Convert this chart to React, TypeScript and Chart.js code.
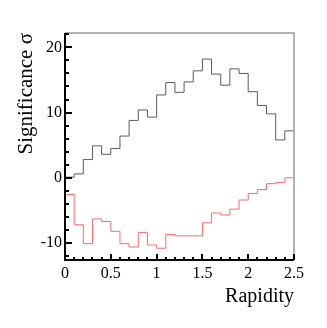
import React, { useEffect, useRef } from "react";
import { Chart, registerables } from "chart.js";

Chart.register(...registerables);

// Rapidity bin edges (25 bins of width 0.1)
const binEdges = [
  0, 0.1, 0.2, 0.3, 0.4, 0.5, 0.6, 0.7, 0.8, 0.9, 1.0, 1.1, 1.2, 1.3, 1.4,
  1.5, 1.6, 1.7, 1.8, 1.9, 2.0, 2.1, 2.2, 2.3, 2.4, 2.5,
];

// Significance per bin (black histogram)
const blackSignificance = [
  0.1, 0.6, 2.8, 4.9, 3.6, 4.5, 6.4, 8.8, 10.4, 9.3, 12.7, 14.6, 13.1, 14.7,
  16.4, 18.2, 15.9, 14.2, 16.7, 16.0, 13.2, 11.1, 9.8, 5.8, 7.2,
];

// Significance per bin (red histogram)
const redSignificance = [
  -2.55, -7.2, -10.1, -6.3, -6.7, -8.2, -10.1, -10.6, -8.4, -10.3, -10.8,
  -8.7, -8.9, -8.9, -8.9, -6.9, -5.4, -5.7, -4.8, -3.4, -2.4, -1.8, -0.9,
  -0.7, 0.0,
];

const xTickValues = [0, 0.5, 1, 1.5, 2, 2.5];
const xTickLabels = ["0", "0.5", "1", "1.5", "2", "2.5"];
const yTickValues = [-10, 0, 10, 20];
const yTickLabels = ["-10", "0", "10", "20"];
const xMinorStep = 0.1;
const yMinorStep = 2;
const xMin = 0;
const xMax = 2.5;
const yMin = -12.6;
const yMax = 22.2;

const xTitle = "Rapidity";
const yTitle = "Significance σ";

const FONT = "'Liberation Serif', 'DejaVu Serif', serif";

// histogram as stepped line: point at each bin's left edge carries that bin's value,
// plus a closing point at the last right edge
function histPoints(values: number[]) {
  const pts = values.map((v, i) => ({ x: binEdges[i], y: v }));
  pts.push({ x: binEdges[values.length], y: values[values.length - 1] });
  return pts;
}

const framePlugin = {
  id: "rootFrame",
  afterDatasetsDraw(chart: any) {
    const { ctx, chartArea, scales } = chart;
    const { left, right, top, bottom } = chartArea;
    const xs = scales.x;
    const ys = scales.y;
    ctx.save();
    ctx.strokeStyle = "#9a9a9a";
    ctx.lineWidth = 1.5;
    ctx.beginPath();
    ctx.moveTo(left, top);
    ctx.lineTo(right, top);
    ctx.lineTo(right, bottom);
    ctx.stroke();
    ctx.strokeStyle = "#000";
    ctx.lineWidth = 2;
    ctx.beginPath();
    ctx.moveTo(left, top);
    ctx.lineTo(left, bottom);
    ctx.lineTo(right, bottom);
    ctx.stroke();
    ctx.beginPath();
    const nY0 = Math.ceil(yMin / yMinorStep);
    const nY1 = Math.floor(yMax / yMinorStep);
    for (let n = nY0; n <= nY1; n++) {
      const v = n * yMinorStep;
      const major = yTickValues.some((t) => Math.abs(t - v) < 1e-6);
      const py = Math.round(ys.getPixelForValue(v));
      ctx.moveTo(left, py);
      ctx.lineTo(left + (major ? 7 : 4), py);
    }
    const nX0 = Math.ceil(xMin / xMinorStep - 1e-6);
    const nX1 = Math.floor(xMax / xMinorStep + 1e-6);
    for (let n = nX0; n <= nX1; n++) {
      const v = n * xMinorStep;
      const major = xTickValues.some((t) => Math.abs(t - v) < 1e-6);
      const px = Math.round(xs.getPixelForValue(v));
      ctx.moveTo(px, bottom);
      ctx.lineTo(px, bottom - (major ? 6 : 3));
    }
    ctx.stroke();
    ctx.restore();
  },
};

export default function App() {
  const canvasRef = useRef<HTMLCanvasElement | null>(null);

  useEffect(() => {
    const canvas = canvasRef.current;
    if (!canvas) return;
    const chart = new Chart(canvas, {
      type: "line",
      data: {
        datasets: [
          {
            data: histPoints(blackSignificance),
            borderColor: "#5a5a5a",
            borderWidth: 1,
            stepped: "before",
            pointRadius: 0,
            fill: false,
          },
          {
            data: histPoints(redSignificance),
            borderColor: "#ff6a6a",
            borderWidth: 1,
            stepped: "before",
            pointRadius: 0,
            fill: false,
          },
        ],
      },
      options: {
        responsive: false,
        animation: false,
        devicePixelRatio: 1,
        layout: { padding: { top: 33, right: 33, left: 0, bottom: 0 } },
        plugins: { legend: { display: false }, tooltip: { enabled: false } },
        scales: {
          x: {
            type: "linear",
            min: xMin,
            max: xMax,
            grid: { display: false, drawTicks: false },
            border: { display: false },
            afterBuildTicks: (scale: any) => {
              scale.ticks = xTickValues.map((v) => ({ value: v }));
            },
            afterFit: (scale: any) => {
              scale.height = 68;
            },
            ticks: {
              autoSkip: false,
              maxRotation: 0,
              padding: 4,
              color: "#000",
              font: { family: FONT, size: 16 },
              callback: (value: any) => {
                const i = xTickValues.findIndex((t) => Math.abs(t - value) < 1e-6);
                return i >= 0 ? xTickLabels[i] : "";
              },
            },
            title: {
              display: true,
              text: xTitle,
              align: "end",
              color: "#000",
              font: { family: FONT, size: 20 },
              padding: { top: 0, bottom: 19 },
            },
          },
          y: {
            type: "linear",
            min: yMin,
            max: yMax,
            grid: { display: false, drawTicks: false },
            border: { display: false },
            afterBuildTicks: (scale: any) => {
              scale.ticks = yTickValues.map((v) => ({ value: v }));
            },
            afterFit: (scale: any) => {
              scale.width = 65;
            },
            ticks: {
              autoSkip: false,
              padding: 3,
              color: "#000",
              font: { family: FONT, size: 16 },
              callback: (value: any) => {
                const i = yTickValues.findIndex((t) => Math.abs(t - value) < 1e-6);
                return i >= 0 ? yTickLabels[i] : "";
              },
            },
            title: {
              display: true,
              text: yTitle,
              align: "end",
              color: "#000",
              font: { family: FONT, size: 21 },
              padding: { top: 14, bottom: 0 },
            },
          },
        },
      },
      plugins: [framePlugin],
    });
    return () => chart.destroy();
  }, []);

  return (
    <div style={{ position: "fixed", left: 0, top: 0, width: 327, height: 328, background: "#fff" }}>
      <canvas ref={canvasRef} width={327} height={328} style={{ display: "block" }} />
    </div>
  );
}
